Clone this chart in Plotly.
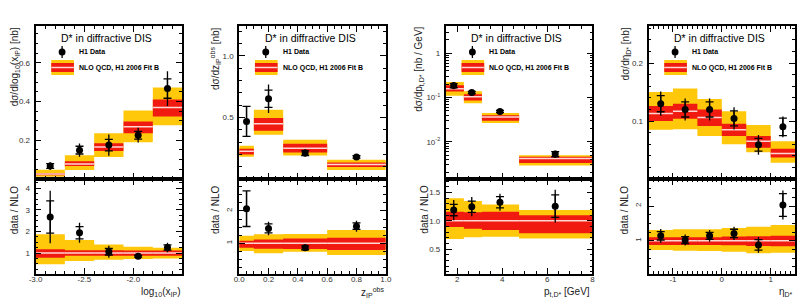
import plotly.graph_objects as go

W, H = 808, 304

# ---------------- data ----------------
# Panel 1: log10(x_IP)
xip_edges = [-3.0, -2.7, -2.4, -2.1, -1.8, -1.5]
xip_data = [0.067, 0.149, 0.175, 0.226, 0.467]
xip_stat = [0.012, 0.02, 0.03, 0.02, 0.05]
xip_tot = [0.02, 0.034, 0.055, 0.038, 0.09]
xip_nlo = [0.026, 0.077, 0.165, 0.27, 0.369]
xip_red_lo = [0.02, 0.067, 0.144, 0.236, 0.323]
xip_red_hi = [0.031, 0.092, 0.185, 0.297, 0.41]
xip_yel_lo = [0.012, 0.046, 0.113, 0.19, 0.277]
xip_yel_hi = [0.048, 0.123, 0.236, 0.354, 0.472]
xip_ratio = [2.67, 1.94, 1.06, 0.85, 1.26]
xip_ratio_stat = [0.75, 0.28, 0.15, 0.04, 0.12]
xip_ratio_tot = [1.22, 0.46, 0.28, 0.07, 0.22]
xip_ryel_lo = [0.48, 0.63, 0.69, 0.72, 0.75]
xip_ryel_hi = [1.87, 1.6, 1.4, 1.29, 1.25]
xip_rred_lo = [0.78, 0.87, 0.87, 0.88, 0.88]
xip_rred_hi = [1.18, 1.13, 1.13, 1.12, 1.12]

# Panel 2: z_IP^obs
z_edges = [0.0, 0.1, 0.3, 0.6, 1.0]
z_data = [0.468, 0.652, 0.211, 0.179]
z_stat = [0.122, 0.07, 0.02, 0.01]
z_tot = [0.122, 0.115, 0.03, 0.015]
z_nlo = [0.225, 0.449, 0.25, 0.117]
z_red_lo = [0.20, 0.392, 0.216, 0.098]
z_red_hi = [0.245, 0.495, 0.287, 0.135]
z_yel_lo = [0.18, 0.36, 0.19, 0.073]
z_yel_hi = [0.271, 0.562, 0.319, 0.157]
z_ratio = [2.07, 1.46, 0.86, 1.53]
z_ratio_stat = [0.55, 0.14, 0.06, 0.1]
z_ratio_tot = [0.55, 0.21, 0.1, 0.17]
z_ryel_lo = [0.76, 0.69, 0.74, 0.64]
z_ryel_hi = [1.23, 1.28, 1.29, 1.41]
z_rred_lo = [0.86, 0.83, 0.82, 0.79]
z_rred_hi = [1.08, 1.12, 1.15, 1.17]

# Panel 3: p_t,D*
pt_edges = [1.5, 2.3, 3.1, 4.75, 8.0]
pt_x = [1.85, 2.65, 3.9, 6.35]
pt_data = [0.186, 0.130, 0.0484, 0.0053]
pt_stat = [0.02, 0.008, 0.003, 0.0007]
pt_tot = [0.032, 0.012, 0.004, 0.001]
pt_nlo = [0.158, 0.104, 0.0363, 0.0042]
pt_red_lo = [0.136, 0.086, 0.030, 0.0033]
pt_red_hi = [0.19, 0.118, 0.040, 0.0046]
pt_yel_lo = [0.109, 0.074, 0.0265, 0.0029]
pt_yel_hi = [0.224, 0.138, 0.045, 0.0050]
pt_ratio = [1.19, 1.25, 1.33, 1.26]
pt_ratio_stat = [0.1, 0.1, 0.1, 0.2]
pt_ratio_tot = [0.18, 0.17, 0.15, 0.29]
pt_ryel_lo = [0.68, 0.71, 0.72, 0.69]
pt_ryel_hi = [1.4, 1.35, 1.29, 1.19]
pt_rred_lo = [0.89, 0.86, 0.84, 0.78]
pt_rred_hi = [1.16, 1.15, 1.16, 1.1]

# Panel 4: eta_D*
eta_edges = [-1.5, -1.0, -0.5, 0.0, 0.5, 1.0, 1.5]
eta_data = [0.130, 0.120, 0.120, 0.1046, 0.059, 0.090]
eta_stat = [0.014, 0.013, 0.013, 0.013, 0.011, 0.015]
eta_tot = [0.021, 0.019, 0.019, 0.019, 0.017, 0.018]
eta_nlo = [0.113, 0.117, 0.106, 0.085, 0.065, 0.044]
eta_red_lo = [0.1, 0.104, 0.0915, 0.074, 0.054, 0.037]
eta_red_hi = [0.126, 0.130, 0.120, 0.0955, 0.074, 0.052]
eta_yel_lo = [0.085, 0.086, 0.074, 0.060, 0.046, 0.028]
eta_yel_hi = [0.150, 0.156, 0.138, 0.117, 0.093, 0.065]
eta_ratio = [1.14, 1.02, 1.14, 1.21, 0.88, 2.03]
eta_ratio_stat = [0.12, 0.1, 0.1, 0.12, 0.15, 0.33]
eta_ratio_tot = [0.2, 0.16, 0.17, 0.19, 0.23, 0.42]
eta_ryel_lo = [0.73, 0.71, 0.7, 0.68, 0.64, 0.65]
eta_ryel_hi = [1.31, 1.33, 1.33, 1.37, 1.4, 1.45]
eta_rred_lo = [0.88, 0.88, 0.88, 0.87, 0.85, 0.84]
eta_rred_hi = [1.1, 1.1, 1.1, 1.12, 1.13, 1.14]

title_text = "D* in diffractive DIS"
leg_data = "H1 Data"
leg_nlo = "NLO QCD, H1 2006 Fit B"

YEL = "#FFC80A"
RED = "#F01A10"
MID = "#FFD6D2"
FONT = "Liberation Sans"

# ---------------- layout geometry (pixels) ----------------
px_left = [29, 236, 446, 652]
px_w = 149
py_top, py_mid, py_bot = 26, 179, 274


def XP(px):
    return px / W


def YP(py):
    return 1 - py / H


fig = go.Figure()


def centers(edges):
    return [(edges[i] + edges[i + 1]) / 2 for i in range(len(edges) - 1)]


def band(edges, lo, hi, color, xa, ya):
    xs, ys = [], []
    for i in range(len(lo)):
        a, b = edges[i], edges[i + 1]
        xs += [a, b, b, a, a, None]
        ys += [lo[i], lo[i], hi[i], hi[i], lo[i], None]
    fig.add_trace(go.Scatter(x=xs, y=ys, mode="lines", fill="toself", fillcolor=color,
                             line=dict(width=0, color=color), xaxis=xa, yaxis=ya,
                             showlegend=False, hoverinfo="skip"))


def midline(edges, c, xa, ya):
    xs, ys = [], []
    for i in range(len(c)):
        xs += [edges[i], edges[i + 1], None]
        ys += [c[i], c[i], None]
    fig.add_trace(go.Scatter(x=xs, y=ys, mode="lines", line=dict(width=1.5, color=MID),
                             xaxis=xa, yaxis=ya, showlegend=False, hoverinfo="skip"))


def points(x, y, stat, tot, xa, ya):
    fig.add_trace(go.Scatter(x=x, y=y, mode="markers", marker=dict(size=1, color="black"),
                             error_y=dict(type="data", array=tot, color="black", thickness=1.3, width=0),
                             xaxis=xa, yaxis=ya, showlegend=False, hoverinfo="skip"))
    fig.add_trace(go.Scatter(x=x, y=y, mode="markers", marker=dict(size=7, color="black"),
                             error_y=dict(type="data", array=stat, color="black", thickness=1.3, width=4),
                             xaxis=xa, yaxis=ya, showlegend=False, hoverinfo="skip"))


panels = [
    dict(edges=xip_edges, x=centers(xip_edges), data=xip_data, stat=xip_stat, tot=xip_tot, nlo=xip_nlo,
         rlo=xip_red_lo, rhi=xip_red_hi, ylo=xip_yel_lo, yhi=xip_yel_hi,
         ratio=xip_ratio, rstat=xip_ratio_stat, rtot=xip_ratio_tot,
         ryl=xip_ryel_lo, ryh=xip_ryel_hi, rrl=xip_rred_lo, rrh=xip_rred_hi,
         xr=[-3.0, -1.5], yr=[0, 0.79], rr=[0.03, 4.43], ylog=False,
         xt=dict(tickvals=[-3.0, -2.5, -2.0], ticktext=["-3.0", "-2.5", "-2.0"]), xminor=0.1,
         yt=dict(tickvals=[0.2, 0.4, 0.6], ticktext=["0.2", "0.4", "0.6"]), yminor=0.05,
         rt=dict(tickvals=[1, 2, 3, 4], ticktext=["1", "2", "3", "4"]), rminor=0.25, rangle=0,
         ytitle="dσ/dlog<sub>10</sub>(x<sub>IP</sub>) [nb]", ytx=8, rtx=8,
         xtitle="log<sub>10</sub>(x<sub>IP</sub>)"),
    dict(edges=z_edges, x=centers(z_edges), data=z_data, stat=z_stat, tot=z_tot, nlo=z_nlo,
         rlo=z_red_lo, rhi=z_red_hi, ylo=z_yel_lo, yhi=z_yel_hi,
         ratio=z_ratio, rstat=z_ratio_stat, rtot=z_ratio_tot,
         ryl=z_ryel_lo, ryh=z_ryel_hi, rrl=z_rred_lo, rrh=z_rred_hi,
         xr=[0, 1.0], yr=[0, 1.243], rr=[0.05, 2.99], ylog=False,
         xt=dict(tickvals=[0, 0.2, 0.4, 0.6, 0.8, 1.0], ticktext=["0.0", "0.2", "0.4", "0.6", "0.8", "1.0"]), xminor=0.05,
         yt=dict(tickvals=[0.5, 1.0], ticktext=["0.5", "1.0"]), yminor=0.1,
         rt=dict(tickvals=[1, 2], ticktext=["1", "2"]), rminor=0.25, rangle=-90,
         ytitle="dσ/dz<sub>IP</sub><sup>obs</sup> [nb]", ytx=212, rtx=212,
         xtitle="z<sub>IP</sub><sup>obs</sup>"),
    dict(edges=pt_edges, x=pt_x, data=pt_data, stat=pt_stat, tot=pt_tot, nlo=pt_nlo,
         rlo=pt_red_lo, rhi=pt_red_hi, ylo=pt_yel_lo, yhi=pt_yel_hi,
         ratio=pt_ratio, rstat=pt_ratio_stat, rtot=pt_ratio_tot,
         ryl=pt_ryel_lo, ryh=pt_ryel_hi, rrl=pt_rred_lo, rrh=pt_rred_hi,
         xr=[1.5, 8.0], yr=[-2.84, 0.615], rr=[0.06, 1.74], ylog=True,
         xt=dict(tickvals=[2, 4, 6, 8], ticktext=["2", "4", "6", "8"]), xminor=0.5,
         yt=dict(tickvals=[0.01, 0.1, 1], ticktext=["10<sup>-2</sup>", "10<sup>-1</sup>", "1"]), yminor="D1",
         rt=dict(tickvals=[0.5, 1.0, 1.5], ticktext=["0.5", "1.0", "1.5"]), rminor=0.1, rangle=0,
         ytitle="dσ/dp<sub>t,D*</sub> [nb / GeV]", ytx=418, rtx=424,
         xtitle="p<sub>t,D*</sub> [GeV]"),
    dict(edges=eta_edges, x=centers(eta_edges), data=eta_data, stat=eta_stat, tot=eta_tot, nlo=eta_nlo,
         rlo=eta_red_lo, rhi=eta_red_hi, ylo=eta_yel_lo, yhi=eta_yel_hi,
         ratio=eta_ratio, rstat=eta_ratio_stat, rtot=eta_ratio_tot,
         ryl=eta_ryel_lo, ryh=eta_ryel_hi, rrl=eta_rred_lo, rrh=eta_rred_hi,
         xr=[-1.5, 1.5], yr=[0, 0.264], rr=[0.04, 2.78], ylog=False,
         xt=dict(tickvals=[-1, 0, 1], ticktext=["-1", "0", "1"]), xminor=0.1,
         yt=dict(tickvals=[0.1, 0.2], ticktext=["0.1", "0.2"]), yminor=0.02,
         rt=dict(tickvals=[1, 2], ticktext=["1", "2"]), rminor=0.25, rangle=-90,
         ytitle="dσ/dη<sub>D*</sub> [nb]", ytx=629, rtx=628,
         xtitle="η<sub>D*</sub>"),
]

tickfont = dict(family=FONT, size=8, color="#333")
axis_common = dict(showline=True, linecolor="black", linewidth=1.8, mirror="allticks",
                   ticks="inside", ticklen=6, tickwidth=1, tickcolor="black",
                   showgrid=False, zeroline=False, tickfont=tickfont)

layout = dict(width=W, height=H, margin=dict(l=0, r=0, t=0, b=0),
              paper_bgcolor="white", plot_bgcolor="white", showlegend=False)
shapes, annotations = [], []

for i, p in enumerate(panels):
    n_up, n_lo = 2 * i + 1, 2 * i + 2
    xa_u, ya_u = f"x{n_up}", f"y{n_up}"
    xa_l, ya_l = f"x{n_lo}", f"y{n_lo}"
    xdom = [XP(px_left[i]), XP(px_left[i] + px_w)]

    # upper panel
    band(p["edges"], p["ylo"], p["yhi"], YEL, xa_u, ya_u)
    band(p["edges"], p["rlo"], p["rhi"], RED, xa_u, ya_u)
    midline(p["edges"], p["nlo"], xa_u, ya_u)
    points(p["x"], p["data"], p["stat"], p["tot"], xa_u, ya_u)

    # lower panel
    band(p["edges"], p["ryl"], p["ryh"], YEL, xa_l, ya_l)
    band(p["edges"], p["rrl"], p["rrh"], RED, xa_l, ya_l)
    midline(p["edges"], [1.0] * len(p["ratio"]), xa_l, ya_l)
    points(p["x"], p["ratio"], p["rstat"], p["rtot"], xa_l, ya_l)

    minor_x = dict(ticks="inside", ticklen=3, tickcolor="black", dtick=p["xminor"], tick0=0)
    layout[f"xaxis{n_up}"] = dict(axis_common, domain=xdom, range=p["xr"], anchor=ya_u,
                                  showticklabels=False, tickmode="array", **p["xt"], minor=minor_x)
    layout[f"xaxis{n_lo}"] = dict(axis_common, domain=xdom, range=p["xr"], anchor=ya_l,
                                  tickmode="array", **p["xt"], minor=minor_x, ticklabelstandoff=-4)
    yminor = dict(ticks="inside", ticklen=3, tickcolor="black", dtick=p["yminor"])
    if not p["ylog"]:
        yminor["tick0"] = 0
    layout[f"yaxis{n_up}"] = dict(axis_common, domain=[YP(py_mid), YP(py_top)], range=p["yr"],
                                  anchor=xa_u, type="log" if p["ylog"] else "linear",
                                  tickmode="array", **p["yt"], minor=yminor, ticklabelstandoff=2)
    layout[f"yaxis{n_lo}"] = dict(axis_common, domain=[YP(py_bot), YP(py_mid)], range=p["rr"],
                                  anchor=xa_l, tickmode="array", **p["rt"], tickangle=p["rangle"],
                                  ticklabelstandoff=2,
                                  minor=dict(ticks="inside", ticklen=3, tickcolor="black",
                                             dtick=p["rminor"], tick0=0))

    L = px_left[i]
    # legend / title
    annotations.append(dict(text=title_text, x=XP(L + px_w * 0.485), y=YP(38), xref="paper", yref="paper",
                            showarrow=False, xanchor="center", yanchor="middle",
                            font=dict(family=FONT, size=10.5, color="black")))
    annotations.append(dict(text=leg_data, x=XP(L + 42), y=YP(52), xref="paper", yref="paper",
                            showarrow=False, xanchor="left", yanchor="middle",
                            font=dict(family=FONT, size=7, color="black", weight="bold")))
    annotations.append(dict(text=leg_nlo, x=XP(L + 42), y=YP(68), xref="paper", yref="paper",
                            showarrow=False, xanchor="left", yanchor="middle",
                            font=dict(family=FONT, size=7, color="black", weight="bold")))
    shapes.append(dict(type="rect", xref="paper", yref="paper", x0=XP(L + 16), x1=XP(L + 39),
                       y0=YP(75), y1=YP(60), fillcolor=YEL, line=dict(width=0)))
    shapes.append(dict(type="rect", xref="paper", yref="paper", x0=XP(L + 16), x1=XP(L + 39),
                       y0=YP(72), y1=YP(63), fillcolor=RED, line=dict(width=0)))
    shapes.append(dict(type="line", xref="paper", yref="paper", x0=XP(L + 16), x1=XP(L + 39),
                       y0=YP(67.5), y1=YP(67.5), line=dict(width=1.5, color=MID)))
    shapes.append(dict(type="line", xref="paper", yref="paper", x0=XP(L + 27), x1=XP(L + 27),
                       y0=YP(46), y1=YP(58), line=dict(width=1.3, color="black")))
    shapes.append(dict(type="circle", xref="paper", yref="paper", x0=XP(L + 23.5), x1=XP(L + 30.5),
                       y0=YP(55.5), y1=YP(48.5), fillcolor="black", line=dict(width=0)))

    # axis titles
    annotations.append(dict(text=p["ytitle"], x=XP(p["ytx"]), y=YP(25), xref="paper", yref="paper",
                            showarrow=False, textangle=-90, xanchor="center", yanchor="top",
                            font=dict(family=FONT, size=10, color="#222")))
    annotations.append(dict(text="data / NLO", x=XP(p["rtx"]), y=YP(183), xref="paper", yref="paper",
                            showarrow=False, textangle=-90, xanchor="center", yanchor="top",
                            font=dict(family=FONT, size=10, color="#222")))
    annotations.append(dict(text=p["xtitle"], x=XP(L + px_w), y=YP(292), xref="paper", yref="paper",
                            showarrow=False, xanchor="right", yanchor="middle",
                            font=dict(family=FONT, size=10, color="#222")))

layout["shapes"] = shapes
layout["annotations"] = annotations
fig.update_layout(**layout)
fig.write_html("out.html")
